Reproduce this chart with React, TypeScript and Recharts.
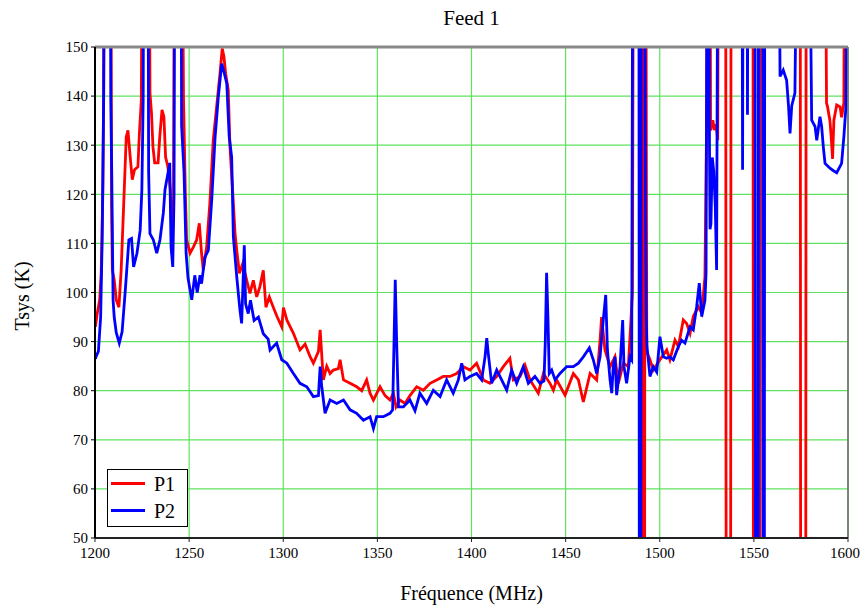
import React from "react";
import {
  CartesianGrid,
  Line,
  LineChart,
  ReferenceLine,
  XAxis,
  YAxis,
} from "recharts";

// values; 200 = beyond the top, 0 = below the bottom
const p1Freq = [
  1200.2, 1201.3, 1202.5, 1203.3, 1204.2, 1204.6, 1205.0, 1208.3, 1208.8, 1209.2,
  1210.2, 1211.3, 1212.7, 1213.9, 1215.2, 1216.6, 1217.5, 1218.7, 1219.8, 1221.0,
  1222.8, 1223.6, 1224.6, 1225.4, 1228.6, 1229.2, 1230.0, 1230.8, 1231.7, 1233.5,
  1234.4, 1235.6, 1236.6, 1237.5, 1238.7, 1240.0, 1241.0, 1241.7, 1242.4, 1246.0,
  1247.0, 1248.0, 1248.7, 1250.5, 1252.3, 1254.0, 1255.4, 1256.6, 1257.5, 1259.3,
  1261.0, 1262.8, 1264.6, 1266.4, 1267.6, 1268.5, 1269.4, 1270.8, 1271.7, 1273.1,
  1274.4, 1275.3, 1276.7, 1278.5, 1280.6, 1282.3, 1284.1, 1285.9, 1287.6, 1289.4,
  1290.8, 1292.6, 1294.7, 1296.8, 1299.2, 1300.1, 1301.9, 1305.4, 1308.9, 1311.6,
  1314.2, 1316.0, 1318.7, 1319.6, 1321.3, 1323.1, 1324.9, 1326.6, 1329.3, 1330.2,
  1332.0, 1335.5, 1339.0, 1341.7, 1344.3, 1346.1, 1347.9, 1351.4, 1354.1, 1356.7,
  1358.5, 1359.9, 1362.0, 1364.7, 1367.3, 1370.9, 1374.4, 1378.0, 1381.5, 1385.0,
  1388.6, 1392.1, 1395.7, 1399.2, 1402.7, 1406.3, 1409.8, 1413.4, 1416.9, 1420.4,
  1422.2, 1425.8, 1428.4, 1431.1, 1435.5, 1438.2, 1441.7, 1443.5, 1445.2, 1449.7,
  1454.1, 1456.8, 1459.4, 1463.0, 1466.5, 1468.3, 1469.1, 1470.9, 1473.6, 1476.2,
  1478.0, 1480.7, 1483.3, 1484.7, 1485.5, 1486.1, 1490.9, 1491.2, 1491.9, 1492.2,
  1492.5, 1493.1, 1494.8, 1496.6, 1500.1, 1503.7, 1505.4, 1508.1, 1509.9, 1512.5,
  1514.3, 1516.1, 1517.8, 1520.5, 1522.3, 1524.0, 1524.9, 1525.6, 1526.6, 1527.0,
  1528.2, 1529.0, 1530.0, 1530.8, 1531.3, 1535.0, 1535.2, 1535.4, 1537.6, 1537.9,
  1549.5, 1549.8, 1553.1, 1553.4, 1574.6, 1574.9, 1577.5, 1577.8, 1587.6, 1588.6,
  1589.2, 1590.4, 1591.2, 1591.8, 1592.5, 1594.0, 1595.8, 1596.6, 1597.8, 1598.4,
  1600.0,
];
const p1Tsys = [
  93, 96, 98.5, 104, 121, 141, 200, 200, 118, 104.6,
  102.6, 98.5, 97, 104.6, 117.5, 131.7, 133, 127.6, 123, 125,
  125.6, 132.5, 139.2, 200, 200, 140.6, 136.6, 129.6, 126.4, 126.4,
  131.7, 137.2, 135.8, 127.6, 125.6, 121, 109.3, 117.5, 200, 200,
  140, 120, 110.7, 108, 109.3, 110.7, 114.1, 108, 104.6, 109.3,
  118.1, 131, 137.8, 144.6, 149.7, 148, 144.6, 141.2, 129.6, 120.8,
  112, 108.6, 103.9, 105.9, 102.5, 99.8, 102.5, 99.1, 101.2, 104.5,
  97, 99.1, 97, 95, 93, 96.9, 94.4, 91.7, 88.3, 89.5,
  87, 85.6, 88, 92.4, 82.2, 85, 83.5, 84.2, 84.5, 86.3,
  82.2, 81.5, 80.8, 80, 82.2, 79.5, 78.1, 80.8, 79, 78.1,
  79.5, 76.7, 78.1, 77.4, 79, 80.8, 80.1, 81.5, 82.2, 82.9,
  82.9, 83.5, 84.9, 84.2, 85.6, 82.2, 81.5, 82.9, 84.9, 86.6,
  82.2, 82.9, 85.2, 82.2, 79.5, 83.5, 81.5, 80.1, 82.2, 79.1,
  83.5, 82.2, 77.7, 83.5, 82.2, 90.3, 95, 88.3, 84.9, 86.9,
  81.5, 85.6, 84.9, 94.4, 100, 200, 200, 0, 0, 200,
  200, 88, 86.3, 84.2, 86.3, 88.3, 86.3, 90.3, 89, 94.4,
  93.7, 91.7, 95.1, 97.1, 95.8, 103.2, 134.7, 200, 200, 133,
  135.1, 133.1, 134.2, 131, 200, 200, 68, 0, 0, 200,
  200, 0, 0, 200, 200, 0, 0, 200, 200, 138.6,
  137.7, 135, 131, 127.2, 135.1, 138.2, 137.8, 135.7, 138.6, 200,
  200,
];

const p2Freq = [
  1200.2, 1200.6, 1201.8, 1203.0, 1203.8, 1204.6, 1205.3, 1208.0, 1208.4, 1208.9,
  1209.6, 1210.2, 1211.3, 1212.9, 1214.4, 1216.2, 1218.0, 1219.4, 1220.5, 1222.3,
  1224.0, 1224.9, 1225.6, 1226.0, 1228.0, 1228.5, 1229.2, 1231.0, 1232.8, 1234.5,
  1236.3, 1237.2, 1238.8, 1239.7, 1240.4, 1241.3, 1242.0, 1242.4, 1245.6, 1246.0,
  1247.3, 1248.4, 1249.4, 1251.4, 1253.0, 1254.3, 1255.8, 1256.6, 1258.4, 1260.2,
  1262.0, 1263.8, 1265.5, 1267.3, 1268.2, 1270.0, 1271.3, 1272.6, 1273.5, 1275.3,
  1277.0, 1277.9, 1279.3, 1280.0, 1281.4, 1282.6, 1284.5, 1286.8, 1289.4, 1292.0,
  1293.0, 1296.5, 1299.2, 1301.9, 1305.4, 1308.9, 1312.5, 1316.0, 1318.7, 1319.6,
  1320.4, 1322.2, 1324.9, 1328.4, 1332.0, 1335.5, 1339.0, 1342.6, 1346.1, 1347.9,
  1349.6, 1353.2, 1356.7, 1358.1, 1358.8, 1359.5, 1360.3, 1361.2, 1363.8, 1367.3,
  1370.0, 1372.6, 1376.2, 1379.7, 1383.3, 1386.8, 1390.3, 1393.0, 1394.8, 1396.5,
  1399.2, 1402.7, 1405.4, 1407.2, 1408.1, 1408.9, 1410.7, 1413.4, 1416.0, 1418.7,
  1421.3, 1424.0, 1427.5, 1430.2, 1433.7, 1436.4, 1438.5, 1439.2, 1439.9, 1440.6,
  1441.3, 1442.6, 1444.4, 1447.0, 1450.6, 1454.1, 1456.8, 1459.4, 1462.6, 1464.7,
  1466.5, 1468.3, 1470.0, 1471.3, 1472.2, 1473.6, 1474.5, 1475.3, 1476.2, 1477.1,
  1478.9, 1480.3, 1481.0, 1482.4, 1484.2, 1485.1, 1485.8, 1488.9, 1489.2, 1489.9,
  1490.2, 1491.8, 1492.4, 1492.8, 1493.2, 1494.8, 1496.6, 1498.4, 1500.1, 1501.9,
  1503.7, 1505.4, 1507.2, 1509.9, 1511.6, 1513.4, 1516.1, 1517.8, 1519.6, 1521.0,
  1522.3, 1524.0, 1524.6, 1525.3, 1526.0, 1526.4, 1526.7, 1527.2, 1527.9, 1528.7,
  1529.5, 1530.2, 1531.0, 1543.6, 1544.0, 1544.4, 1546.3, 1546.6, 1547.0, 1550.6,
  1550.9, 1552.2, 1552.5, 1554.6, 1554.9, 1555.5, 1555.8, 1563.0, 1563.9, 1565.6,
  1567.4, 1568.4, 1569.2, 1570.1, 1571.8, 1573.6, 1579.0, 1580.7, 1582.5, 1583.4,
  1585.1, 1586.0, 1586.9, 1587.8, 1590.4, 1592.3, 1594.0, 1596.6, 1597.8, 1598.9,
  1599.6, 1600.0,
];
const p2Tsys = [
  86.5, 87, 88, 95, 110.7, 139.6, 200, 200, 139, 124,
  98.5, 95, 91.8, 89.7, 92, 101, 110.7, 111, 105.2, 108,
  112.7, 121, 139.6, 200, 200, 124.4, 112, 110.7, 108, 110.7,
  116.2, 121, 124.4, 126.4, 109.3, 105.2, 120, 200, 200, 134,
  124.4, 108, 103, 98.5, 103.5, 100, 103.5, 101.8, 107.2, 108.6,
  118.8, 131.7, 139.8, 146.6, 145.4, 142.6, 131.7, 127.6, 111.3, 103.2,
  96.4, 93.7, 109.6, 97.7, 95.7, 98.4, 94.3, 95, 91.6, 90.5,
  88.3, 89.7, 86.3, 85.6, 83.5, 81.5, 80.8, 78.8, 79, 84.9,
  81, 75.4, 78.1, 77.4, 78.1, 76.1, 75.4, 74, 74.7, 72.3,
  74.7, 74.7, 75.4, 76.1, 89, 102.6, 89, 76.7, 76.7, 78.1,
  75.9, 79.5, 77.4, 80.1, 78.8, 82.2, 79.5, 82.2, 85.6, 82.2,
  82.9, 83.5, 82.2, 86.9, 90.7, 87.6, 81.5, 84.2, 82.2, 80.1,
  84.2, 81.5, 84.9, 81.5, 82.9, 81.5, 82, 90, 104, 95,
  83.5, 84.2, 82.2, 83.5, 84.9, 84.9, 85.6, 86.9, 88.7, 86.3,
  83.5, 86.9, 94.4, 99.5, 88.3, 82.2, 79.5, 84.9, 86.9, 79.1,
  84.9, 94.4, 84.9, 81.5, 86.9, 86.3, 200, 200, 0, 0,
  200, 200, 119, 95, 89, 82.9, 84.9, 83.8, 91, 86.9,
  86.6, 86.9, 86.3, 89, 90.3, 89.7, 93, 92.4, 97.1, 101.9,
  95.1, 98.4, 104, 200, 200, 131, 112.9, 114, 127.5, 124.6,
  117.5, 104.6, 200, 200, 125, 200, 200, 136.2, 200, 200,
  0, 0, 200, 200, 0, 0, 200, 200, 144, 145.3,
  143.2, 138, 132.4, 138, 140.6, 200, 200, 135.1, 133.8, 131,
  135.8, 133.8, 129.6, 126.3, 125.3, 124.8, 124.4, 126.3, 131.7, 137.8,
  200, 200,
];

const freqTicks = [1200, 1250, 1300, 1350, 1400, 1450, 1500, 1550, 1600];
const tsysTicks = [50, 60, 70, 80, 90, 100, 110, 120, 130, 140, 150];

const p1Data = p1Freq.map((f, i) => ({ f, t: p1Tsys[i] }));
const p2Data = p2Freq.map((f, i) => ({ f, t: p2Tsys[i] }));

const serif =
  "'Times New Roman', Tinos, 'Liberation Serif', 'Nimbus Roman', 'FreeSerif', 'DejaVu Serif', 'Noto Serif', serif";
const tickStyle = { fill: "#000", fontSize: 15, fontFamily: serif };

export default function App() {
  return (
    <div style={{ position: "relative", width: 852, height: 597, fontFamily: serif }}>
      <div
        style={{
          position: "absolute",
          left: 87,
          width: 753,
          top: -2,
          lineHeight: "24px",
          fontSize: 21,
          textAlign: "center",
        }}
      >
        Feed 1
      </div>
      <div
        style={{
          position: "absolute",
          left: 14 - 60,
          top: 288 - 12,
          width: 120,
          lineHeight: "24px",
          fontSize: 20,
          textAlign: "center",
          transform: "rotate(-90deg)",
        }}
      >
        Tsys (K)
      </div>
      <div
        style={{
          position: "absolute",
          left: 87,
          width: 753,
          top: 573,
          lineHeight: "24px",
          fontSize: 20,
          textAlign: "center",
        }}
      >
        Fréquence (MHz)
      </div>

      <LineChart
        width={852}
        height={597}
        margin={{ top: 39, right: 12, left: 37, bottom: 37 }}
      >
        <CartesianGrid stroke="#5fe35f" strokeWidth={1.2} />
        <XAxis
          type="number"
          dataKey="f"
          domain={[1200, 1600]}
          ticks={freqTicks}
          allowDataOverflow
          height={30}
          tick={tickStyle}
          tickSize={4}
          tickMargin={5}
          axisLine={{ stroke: "#222", strokeWidth: 2 }}
          tickLine={{ stroke: "#222" }}
        />
        <YAxis
          type="number"
          domain={[50, 150]}
          ticks={tsysTicks}
          allowDataOverflow
          width={50}
          tick={tickStyle}
          tickSize={4}
          tickMargin={3}
          axisLine={{ stroke: "#000", strokeWidth: 2 }}
          tickLine={{ stroke: "#000" }}
        />
        <Line
          data={p1Data}
          dataKey="t"
          type="linear"
          stroke="#ff0000"
          strokeWidth={2.8}
          dot={false}
          isAnimationActive={false}
        />
        <Line
          data={p2Data}
          dataKey="t"
          type="linear"
          stroke="#0000ff"
          strokeWidth={2.8}
          dot={false}
          isAnimationActive={false}
        />
        <ReferenceLine y={150} stroke="#888" strokeWidth={3} />
        <ReferenceLine x={1600} stroke="#666" strokeWidth={1.5} />
      </LineChart>

      <div
        style={{
          position: "absolute",
          left: 99,
          top: 461,
          width: 79,
          height: 56,
          background: "#fff",
          border: "1px solid #000",
          fontSize: 20,
        }}
      >
        {[
          { name: "P1", color: "#ff0000" },
          { name: "P2", color: "#0000ff" },
        ].map((s) => (
          <div
            key={s.name}
            style={{ display: "flex", alignItems: "center", height: 27 }}
          >
            <span
              style={{
                display: "inline-block",
                width: 34,
                height: 3,
                background: s.color,
                marginLeft: 3,
                marginRight: 9,
              }}
            />
            <span style={{ lineHeight: "24px" }}>{s.name}</span>
          </div>
        ))}
      </div>
    </div>
  );
}
